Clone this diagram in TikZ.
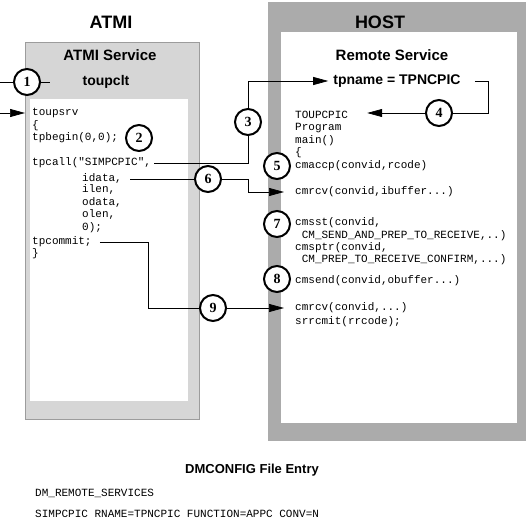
\documentclass[tikz,border=0pt]{standalone}
\usepackage{fontspec}
\setmainfont{Liberation Sans}
\setmonofont{Liberation Mono}
\newfontfamily\numfont{Liberation Serif}
\usetikzlibrary{arrows.meta,positioning}
\definecolor{atmigray}{HTML}{D6D6D6}
\definecolor{hostgray}{HTML}{ABABAB}
\definecolor{edgegray}{HTML}{9C9C9C}

\begin{document}
\begin{tikzpicture}[
    x=1pt, y=-1pt,
    title/.style={font=\fontsize{18}{20}\selectfont\bfseries},
    head/.style={font=\fontsize{15}{17}\selectfont\bfseries},
    sub/.style={font=\fontsize{14}{16}\selectfont\bfseries, inner sep=0pt},
    code/.style={anchor=west, inner xsep=3pt, inner ysep=0pt, text height=8pt, text depth=2pt, font=\ttfamily\fontsize{11}{13}\selectfont},
    num/.style={circle, draw, line width=2pt, fill=white, minimum size=26pt, inner sep=0pt, font=\numfont\bfseries\fontsize{14}{14}\selectfont},
    link/.style={line width=0.7pt},
    arrow/.style={link, -{Triangle[length=15pt,width=8pt]}}
]
    \useasboundingbox (0,0) rectangle (528,526);
    \fill[hostgray] (268,2) rectangle (526,441);
    \fill[white] (281,32) rectangle (517,423);
    \filldraw[fill=atmigray, draw=edgegray] (25,42) rectangle (199,419);
    \fill[white] (30,99) rectangle (188,401);

    \node[title] (atmi) at (111,22) {ATMI};
    \node[title] (host) at (380,22) {HOST};
    \node[head] (atmisvc) at (110,55) {ATMI Service};
    \node[sub] (toupclt) at (106,82) {toupclt};
    \node[head] (remotesvc) at (392,55) {Remote Service};
    \node[sub] (tpname) at (397,81) {tpname = TPNCPIC};

    \node[code] (toupsrv) at (29,113) {toupsrv};
    \node[code] (lopen) at (29,126) {\{};
    \node[code] (tpbegin) at (29,138) {tpbegin(0,0);};
    \node[code] (tpcall) at (29,163) {tpcall("SIMPCPIC",};
    \node[code] (idata) at (79,179) {idata,};
    \node[code] (ilen) at (79,190) {ilen,};
    \node[code] (odata) at (79,203) {odata,};
    \node[code] (olen) at (79,215) {olen,};
    \node[code] (zero) at (79,228) {0);};
    \node[code] (tpcommit) at (29,242) {tpcommit;};
    \node[code] (lclose) at (29,254) {\}};

    \node[code] (toupcpic) at (292,116) {TOUPCPIC};
    \node[code] (program) at (292,128) {Program};
    \node[code] (mainfn) at (292,141) {main()};
    \node[code] (ropen) at (292,153) {\{};
    \node[code] (cmaccp) at (292,166) {cmaccp(convid,rcode)};
    \node[code] (cmrcvin) at (292,192) {cmrcv(convid,ibuffer...)};
    \node[code] (cmsst) at (292,223) {cmsst(convid,};
    \node[code] (cmsstarg) at (298.6,236) {CM\_SEND\_AND\_PREP\_TO\_RECEIVE,..)};
    \node[code] (cmsptr) at (292,248) {cmsptr(convid,};
    \node[code] (cmsptrarg) at (298.6,260) {CM\_PREP\_TO\_RECEIVE\_CONFIRM,...)};
    \node[code] (cmsend) at (292,281) {cmsend(convid,obuffer...)};
    \node[code] (cmrcvcm) at (292,308) {cmrcv(convid,...)};
    \node[code] (srrcmit) at (292,322) {srrcmit(rrcode);};

    \node[font=\fontsize{13}{15}\selectfont\bfseries] (dmtitle) at (252,470) {DMCONFIG File Entry};
    \node[code] (dmsect) at (32,494) {DM\_REMOTE\_SERVICES};
    \node[code] (dmentry) at (32,515) {SIMPCPIC RNAME=TPNCPIC FUNCTION=APPC CONV=N};

    \node[num] (n1) at (27,82) {1};
    \node[num] (n2) at (139,138) {2};
    \node[num] (n3) at (248,122) {3};
    \node[num] (n4) at (439,113) {4};
    \node[num] (n5) at (277,166) {5};
    \node[num] (n6) at (208,179) {6};
    \node[num] (n7) at (277,224) {7};
    \node[num] (n8) at (277,279) {8};
    \node[num] (n9) at (213,308) {9};

    \coordinate (stub1) at (50,82);
    \draw[link] (n1) -- (stub1);
    \draw[arrow, shorten >=4pt] (n1.west) -- ++(-24,0) |- (toupsrv.west);
    \draw[link] (tpcall.east) -| (n3.south);
    \draw[arrow, shorten >=5pt] (n3.north) |- (tpname.west);
    \draw[link, shorten <=14pt] (tpname.east) -- ++(28,0) |- (n4.east);
    \draw[arrow, shorten >=16pt] (n4.west) -- (n4.west -| toupcpic.east);
    \draw[link, shorten <=5pt] (idata.east) -- (n6.west);
    \draw[arrow, shorten >=8pt] (n6.east) -- (n6.east -| n3) |- (cmrcvin.west);
    \draw[link, shorten <=5pt] (tpcommit.east) -- ++(54,0) |- (n9.west);
    \draw[arrow, shorten >=8pt] (n9.east) -- (cmrcvcm.west);
\end{tikzpicture}
\end{document}
